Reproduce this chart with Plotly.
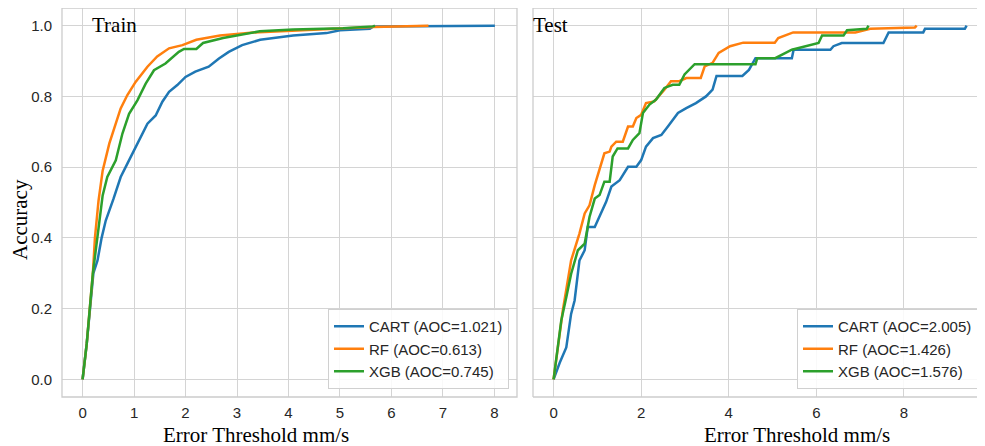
import plotly.graph_objects as go

# ---------------- data ----------------
series_names = ["CART", "RF", "XGB"]
train_aoc = ["1.021", "0.613", "0.745"]
test_aoc = ["2.005", "1.426", "1.576"]

train_cart_x = [0, 0.08, 0.21, 0.29, 0.37, 0.45, 0.60, 0.74, 0.87, 1.0, 1.13, 1.26, 1.42, 1.55, 1.68, 1.84, 2.0, 2.19, 2.45, 2.65, 2.84, 3.1, 3.45, 4.09, 4.74, 5.0, 5.58, 5.65, 8.01]
train_cart_y = [0, 0.10, 0.30, 0.336, 0.40, 0.449, 0.51, 0.572, 0.61, 0.647, 0.685, 0.723, 0.746, 0.785, 0.813, 0.832, 0.855, 0.87, 0.884, 0.907, 0.926, 0.945, 0.96, 0.972, 0.979, 0.987, 0.991, 0.998, 1.0]

train_rf_x = [0, 0.08, 0.20, 0.24, 0.31, 0.39, 0.52, 0.74, 0.87, 1.03, 1.26, 1.45, 1.68, 1.94, 2.21, 2.67, 3.32, 4.55, 5.65, 6.72]
train_rf_y = [0, 0.10, 0.30, 0.40, 0.505, 0.59, 0.667, 0.766, 0.804, 0.841, 0.884, 0.913, 0.936, 0.945, 0.96, 0.972, 0.981, 0.989, 0.996, 1.0]

train_xgb_x = [0, 0.08, 0.20, 0.285, 0.39, 0.48, 0.645, 0.774, 0.903, 1.065, 1.226, 1.387, 1.61, 1.87, 1.97, 2.21, 2.34, 2.73, 3.44, 4.09, 5.06, 5.65, 5.68]
train_xgb_y = [0, 0.10, 0.30, 0.40, 0.52, 0.572, 0.619, 0.695, 0.751, 0.789, 0.836, 0.874, 0.893, 0.926, 0.934, 0.934, 0.951, 0.965, 0.984, 0.989, 0.993, 0.998, 1.0]

test_cart_x = [0, 0.14, 0.29, 0.40, 0.48, 0.59, 0.71, 0.78, 0.94, 1.05, 1.20, 1.32, 1.51, 1.70, 1.89, 2.0, 2.11, 2.27, 2.46, 2.61, 2.84, 3.03, 3.25, 3.48, 3.63, 3.72, 4.31, 4.46, 4.61, 5.44, 5.48, 6.32, 6.39, 6.58, 7.53, 7.65, 8.44, 8.48, 9.39, 9.43]
test_cart_y = [0, 0.047, 0.09, 0.185, 0.223, 0.336, 0.365, 0.431, 0.431, 0.459, 0.502, 0.545, 0.563, 0.601, 0.601, 0.62, 0.658, 0.682, 0.691, 0.715, 0.753, 0.767, 0.781, 0.80, 0.819, 0.858, 0.858, 0.875, 0.908, 0.908, 0.932, 0.932, 0.942, 0.951, 0.951, 0.981, 0.981, 0.991, 0.991, 1.0]

test_rf_x = [0, 0.21, 0.40, 0.59, 0.71, 0.82, 0.94, 1.05, 1.16, 1.28, 1.32, 1.43, 1.58, 1.70, 1.81, 1.89, 2.0, 2.11, 2.3, 2.53, 2.68, 2.87, 3.03, 3.36, 3.45, 3.63, 3.77, 4.03, 4.33, 5.05, 5.13, 5.47, 6.89, 7.23, 8.25, 8.29]
test_rf_y = [0, 0.194, 0.336, 0.412, 0.469, 0.492, 0.549, 0.597, 0.639, 0.644, 0.658, 0.672, 0.672, 0.715, 0.715, 0.739, 0.748, 0.781, 0.786, 0.819, 0.843, 0.843, 0.852, 0.852, 0.885, 0.895, 0.923, 0.942, 0.952, 0.952, 0.965, 0.981, 0.981, 0.991, 0.995, 1.0]

test_xgb_x = [0, 0.175, 0.29, 0.40, 0.555, 0.71, 0.82, 0.94, 1.05, 1.16, 1.28, 1.35, 1.46, 1.70, 1.81, 1.96, 2.04, 2.19, 2.34, 2.53, 2.72, 2.87, 2.99, 3.22, 4.61, 4.65, 5.06, 5.29, 5.44, 6.05, 6.13, 6.62, 6.70, 7.15, 7.19]
test_xgb_y = [0, 0.166, 0.232, 0.298, 0.365, 0.384, 0.459, 0.511, 0.521, 0.559, 0.559, 0.63, 0.653, 0.653, 0.677, 0.696, 0.753, 0.777, 0.791, 0.824, 0.833, 0.833, 0.862, 0.891, 0.891, 0.908, 0.908, 0.923, 0.932, 0.951, 0.972, 0.972, 0.987, 0.991, 1.0]

left_xticks = [0, 1, 2, 3, 4, 5, 6, 7, 8]
right_xticks = [0, 2, 4, 6, 8]
y_ticks = [0.0, 0.2, 0.4, 0.6, 0.8, 1.0]

colors = ["#1f77b4", "#ff7f0e", "#2ca02c"]

# ---------------- layout geometry ----------------
# the page body has an 8px margin, so figure pixels = page pixels - 8
OFF = 8
W, H = 977, 438
L, R, T, B = 54, 0, 0, 49
PW = W - L - R
PH = H - T - B

def px(xp):
    return (xp - OFF - L) / PW

def py(yp):
    return (H - B - (yp - OFF)) / PH

fig = go.Figure()

train = [(train_cart_x, train_cart_y), (train_rf_x, train_rf_y), (train_xgb_x, train_xgb_y)]
test = [(test_cart_x, test_cart_y), (test_rf_x, test_rf_y), (test_xgb_x, test_xgb_y)]

for i, (xs, ys) in enumerate(train):
    fig.add_trace(go.Scatter(x=xs, y=ys, mode="lines", xaxis="x", yaxis="y",
                             line=dict(color=colors[i], width=2.5),
                             name=f"{series_names[i]} (AOC={train_aoc[i]})",
                             legend="legend"))
for i, (xs, ys) in enumerate(test):
    fig.add_trace(go.Scatter(x=xs, y=ys, mode="lines", xaxis="x2", yaxis="y2",
                             line=dict(color=colors[i], width=2.5),
                             name=f"{series_names[i]} (AOC={test_aoc[i]})",
                             legend="legend2"))

grid = "#d4d4d4"
tickfont = dict(family="Liberation Sans, Arial, sans-serif", size=15, color="#262626")
common_x = dict(showgrid=True, gridcolor=grid, gridwidth=1.2, zeroline=False, showline=False,
                ticks="outside", ticklen=2, tickcolor="rgba(0,0,0,0)", tickfont=tickfont)
common_y = dict(showgrid=True, gridcolor=grid, gridwidth=1.2, zeroline=False, showline=False,
                range=[-0.05, 1.05], tickvals=y_ticks, tickformat=".1f", tickfont=tickfont)

x1_end = px(517)
x2_start = px(533)

legend_font = dict(family="Liberation Sans, Arial, sans-serif", size=15, color="#262626")

fig.update_layout(
    width=W, height=H,
    margin=dict(l=L, r=R, t=T, b=B),
    paper_bgcolor="white", plot_bgcolor="white",
    xaxis=dict(domain=[0, x1_end], range=[-0.40, 8.44], tickvals=left_xticks, anchor="y", **common_x),
    yaxis=dict(domain=[0, 1], anchor="x", ticks="outside", ticklen=6, tickcolor="rgba(0,0,0,0)", **common_y),
    xaxis2=dict(domain=[x2_start, 1], range=[-0.47, 9.85], tickvals=right_xticks, anchor="y2", **common_x),
    yaxis2=dict(domain=[0, 1], anchor="x2", showticklabels=False, **common_y),
    legend=dict(x=px(509), xanchor="right", y=py(389), yanchor="bottom",
                bgcolor="rgba(255,255,255,0.85)", bordercolor="#d0d0d0", borderwidth=1,
                font=legend_font, itemwidth=30),
    legend2=dict(x=px(797), xanchor="left", y=py(389), yanchor="bottom",
                 bgcolor="rgba(255,255,255,0.85)", bordercolor="#d0d0d0", borderwidth=1,
                 font=legend_font, itemwidth=30),
    showlegend=True,
)

# frames
frame = dict(color="#cccccc", width=1.3)
fig.add_shape(type="rect", xref="x domain", yref="y domain", x0=0, x1=1, y0=0, y1=1, line=frame, layer="above")
fig.add_shape(type="line", xref="x2 domain", yref="y2 domain", x0=0, x1=0, y0=0, y1=1, line=frame, layer="above")
fig.add_shape(type="line", xref="x2 domain", yref="y2 domain", x0=0, x1=1, y0=1, y1=1, line=frame, layer="above")
fig.add_shape(type="line", xref="x2 domain", yref="y2 domain", x0=0, x1=1, y0=0, y1=0, line=frame, layer="above")

serif = "Liberation Serif, Times New Roman, serif"
ann = [
    dict(text="Train", x=px(90), y=py(25), xanchor="left", yanchor="middle", font=dict(family=serif, size=21, color="black")),
    dict(text="Test", x=px(531), y=py(25), xanchor="left", yanchor="middle", font=dict(family=serif, size=21, color="black")),
    dict(text="Error Threshold mm/s", x=px(256), y=py(435), xanchor="center", yanchor="middle", font=dict(family=serif, size=21, color="black")),
    dict(text="Error Threshold mm/s", x=px(797), y=py(435), xanchor="center", yanchor="middle", font=dict(family=serif, size=21, color="black")),
    dict(text="Accuracy", x=px(20), y=py(220), xanchor="center", yanchor="middle", textangle=-90, font=dict(family=serif, size=21, color="black")),
]
for a in ann:
    fig.add_annotation(xref="paper", yref="paper", showarrow=False, **a)

fig.write_html("out.html")
